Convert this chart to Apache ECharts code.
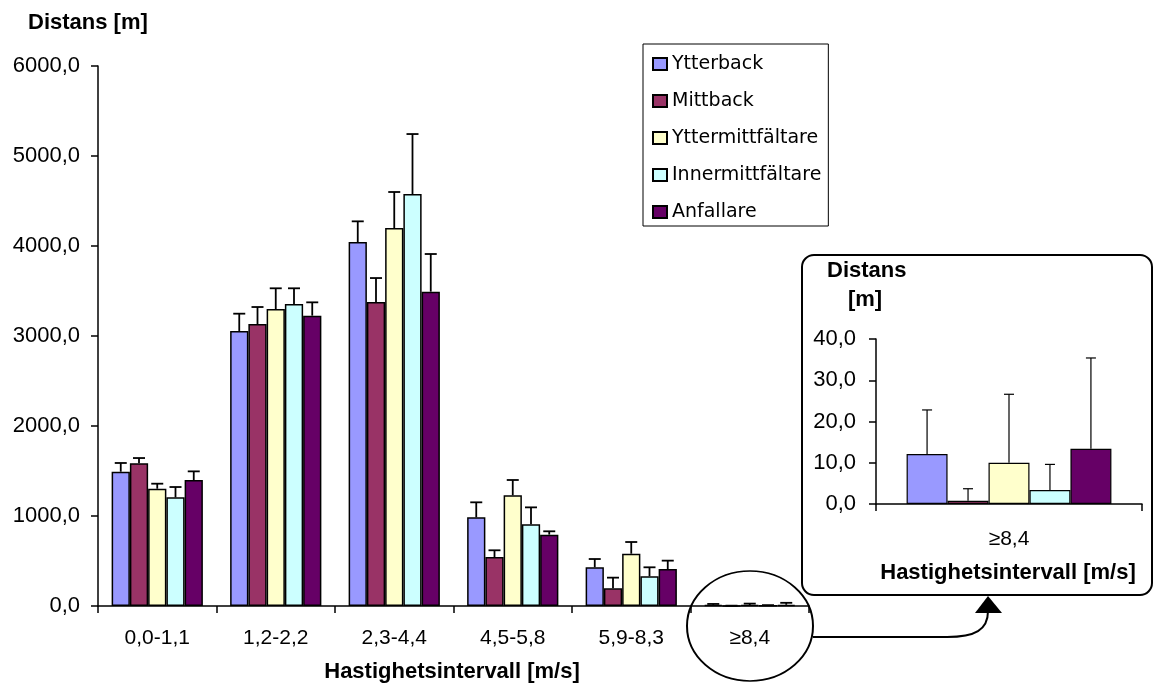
<!DOCTYPE html>
<html>
<head>
<meta charset="utf-8">
<script src="https://cdn.jsdelivr.net/npm/echarts@6/dist/echarts.min.js"></script>
<style>
html,body{margin:0;padding:0;background:#fff;}
#chart{width:1156px;height:684px;}
</style>
</head>
<body>
<div id="chart"></div>
<script>
// ---- data ----
const categories = ['0,0-1,1', '1,2-2,2', '2,3-4,4', '4,5-5,8', '5,9-8,3', '\u22658,4'];
const insetCategories = ['\u22658,4'];
const seriesNames = ['Ytterback', 'Mittback', 'Yttermittfältare', 'Innermittfältare', 'Anfallare'];
const ytterback = [1492, 3056, 4044, 985, 430, 12.1];
const mittback = [1585, 3133, 3378, 544, 196, 0.8];
const yttermittfaltare = [1303, 3300, 4200, 1230, 581, 10.0];
const innermittfaltare = [1207, 3356, 4578, 907, 330, 3.4];
const anfallare = [1400, 3226, 3493, 793, 411, 13.4];
const ytterbackErr = [97, 192, 230, 167, 92, 10.7];
const mittbackErr = [59, 189, 266, 75, 119, 2.9];
const yttermittfaltareErr = [56, 230, 400, 170, 130, 16.6];
const innermittfaltareErr = [115, 174, 666, 189, 100, 6.2];
const anfallareErr = [96, 148, 418, 37, 93, 22.0];
const colors = ['#9999FF', '#993366', '#FFFFCC', '#CCFFFF', '#660066'];

const values = [ytterback, mittback, yttermittfaltare, innermittfaltare, anfallare];
const errors = [ytterbackErr, mittbackErr, yttermittfaltareErr, innermittfaltareErr, anfallareErr];

const GAP = 0.23;
const tickFont = 'Liberation Sans, Arial, sans-serif';
const fmt = v => v.toFixed(1).replace('.', ',');

function errRender(lw, capHalf) {
  return function (params, api) {
    const cat = api.value(0), si = api.value(1), v = api.value(2), e = api.value(3);
    const band = api.size([1, 0])[0];
    const gw = band * (1 - GAP);
    const bw = gw / 5;
    const cx = api.coord([cat, 0])[0] - gw / 2 + (si + 0.5) * bw;
    const yb = api.coord([cat, v])[1];
    const yt = api.coord([cat, v + e])[1];
    return {
      type: 'group',
      children: [
        {type: 'line', shape: {x1: cx, y1: yb, x2: cx, y2: yt}, style: {stroke: '#000', lineWidth: lw}},
        {type: 'line', shape: {x1: cx - capHalf, y1: yt, x2: cx + capHalf, y2: yt}, style: {stroke: '#000', lineWidth: lw}}
      ]
    };
  };
}

const mainErrData = [];
const insetErrData = [];
for (let s = 0; s < 5; s++) {
  for (let c = 0; c < categories.length; c++) {
    mainErrData.push([c, s, values[s][c], errors[s][c]]);
  }
  insetErrData.push([0, s, values[s][5], errors[s][5]]);
}

const series = [];
seriesNames.forEach((n, i) => {
  series.push({
    name: n, type: 'bar', xAxisIndex: 0, yAxisIndex: 0,
    data: values[i], barGap: 0, barCategoryGap: (GAP * 100) + '%',
    itemStyle: {color: colors[i], borderColor: '#000', borderWidth: 1.5},
    animation: false
  });
});
seriesNames.forEach((n, i) => {
  series.push({
    name: n, type: 'bar', xAxisIndex: 1, yAxisIndex: 1,
    data: [values[i][5]], barGap: 0, barCategoryGap: (GAP * 100) + '%',
    itemStyle: {color: colors[i], borderColor: '#000', borderWidth: 1.2},
    animation: false
  });
});
series.push({
  type: 'custom', xAxisIndex: 0, yAxisIndex: 0, data: mainErrData,
  encode: {x: 0, y: 2}, renderItem: errRender(1.8, 6), z: 5, animation: false
});
series.push({
  type: 'custom', xAxisIndex: 1, yAxisIndex: 1, data: insetErrData,
  encode: {x: 0, y: 2}, renderItem: errRender(1.2, 5), z: 5, animation: false
});

const axisLineStyle = {show: true, lineStyle: {color: '#000', width: 1.5}};
const tickStyle = {show: true, length: 7, lineStyle: {color: '#000', width: 1.5}};
const boldFont = 'bold 22px Liberation Sans, Arial, sans-serif';

const option = {
  backgroundColor: '#fff',
  animation: false,
  legend: {
    data: seriesNames,
    orient: 'vertical',
    left: 643, top: 44,
    padding: [9, 7, 3, 9],
    itemWidth: 14, itemHeight: 12, itemGap: 15,
    borderColor: '#000', borderWidth: 1,
    backgroundColor: '#fff',
    icon: 'rect',
    textStyle: {fontFamily: 'DejaVu Sans, sans-serif', fontSize: 19, color: '#000', lineHeight: 22}
  },
  grid: [
    {left: 98, top: 66, width: 711, height: 540},
    {left: 876, top: 339, width: 266, height: 165}
  ],
  xAxis: [
    {type: 'category', gridIndex: 0, data: categories,
     axisLine: axisLineStyle, axisTick: tickStyle,
     axisLabel: {color: '#000', fontFamily: tickFont, fontSize: 21, margin: 22}},
    {type: 'category', gridIndex: 1, data: insetCategories,
     axisLine: axisLineStyle, axisTick: tickStyle,
     axisLabel: {color: '#000', fontFamily: tickFont, fontSize: 21, margin: 25}}
  ],
  yAxis: [
    {type: 'value', gridIndex: 0, min: 0, max: 6000, interval: 1000,
     axisLine: axisLineStyle, axisTick: tickStyle, splitLine: {show: false},
     axisLabel: {color: '#000', fontFamily: tickFont, fontSize: 22, margin: 18, formatter: fmt}},
    {type: 'value', gridIndex: 1, min: 0, max: 40, interval: 10,
     axisLine: axisLineStyle, axisTick: tickStyle, splitLine: {show: false},
     axisLabel: {color: '#000', fontFamily: tickFont, fontSize: 22, margin: 20, formatter: fmt}}
  ],
  series: series,
  graphic: [
    {type: 'text', x: 28, y: 23, style: {text: 'Distans [m]', font: boldFont, fill: '#000', verticalAlign: 'middle'}},
    {type: 'text', x: 452, y: 672, style: {text: 'Hastighetsintervall [m/s]', font: boldFont, fill: '#000', align: 'center', verticalAlign: 'middle'}},
    {type: 'text', x: 827, y: 271, style: {text: 'Distans', font: boldFont, fill: '#000', verticalAlign: 'middle'}},
    {type: 'text', x: 865, y: 300, style: {text: '[m]', font: boldFont, fill: '#000', align: 'center', verticalAlign: 'middle'}},
    {type: 'text', x: 1008, y: 573, style: {text: 'Hastighetsintervall [m/s]', font: boldFont, fill: '#000', align: 'center', verticalAlign: 'middle'}},
    {type: 'rect', shape: {x: 802, y: 255, width: 350, height: 340, r: 12}, style: {fill: 'transparent', stroke: '#000', lineWidth: 2}, z: 10},
    {type: 'circle', x: 750, y: 626, scaleY: 55 / 63, shape: {cx: 0, cy: 0, r: 63}, style: {fill: 'transparent', stroke: '#000', lineWidth: 2, strokeNoScale: true}, z: 10},
    {type: 'line', shape: {x1: 813, y1: 637, x2: 948, y2: 637}, style: {stroke: '#000', lineWidth: 2}, z: 10},
    {type: 'bezierCurve', shape: {x1: 947, y1: 637, cpx1: 975, cpy1: 637, cpx2: 988, cpy2: 630, x2: 988, y2: 611}, style: {fill: 'none', stroke: '#000', lineWidth: 2}, z: 10},
    {type: 'polygon', shape: {points: [[988, 596], [975, 613], [1002, 613]]}, style: {fill: '#000'}, z: 10}
  ]
};

const chart = echarts.init(document.getElementById('chart'), null, {renderer: 'canvas'});
chart.setOption(option);
</script>
</body>
</html>
